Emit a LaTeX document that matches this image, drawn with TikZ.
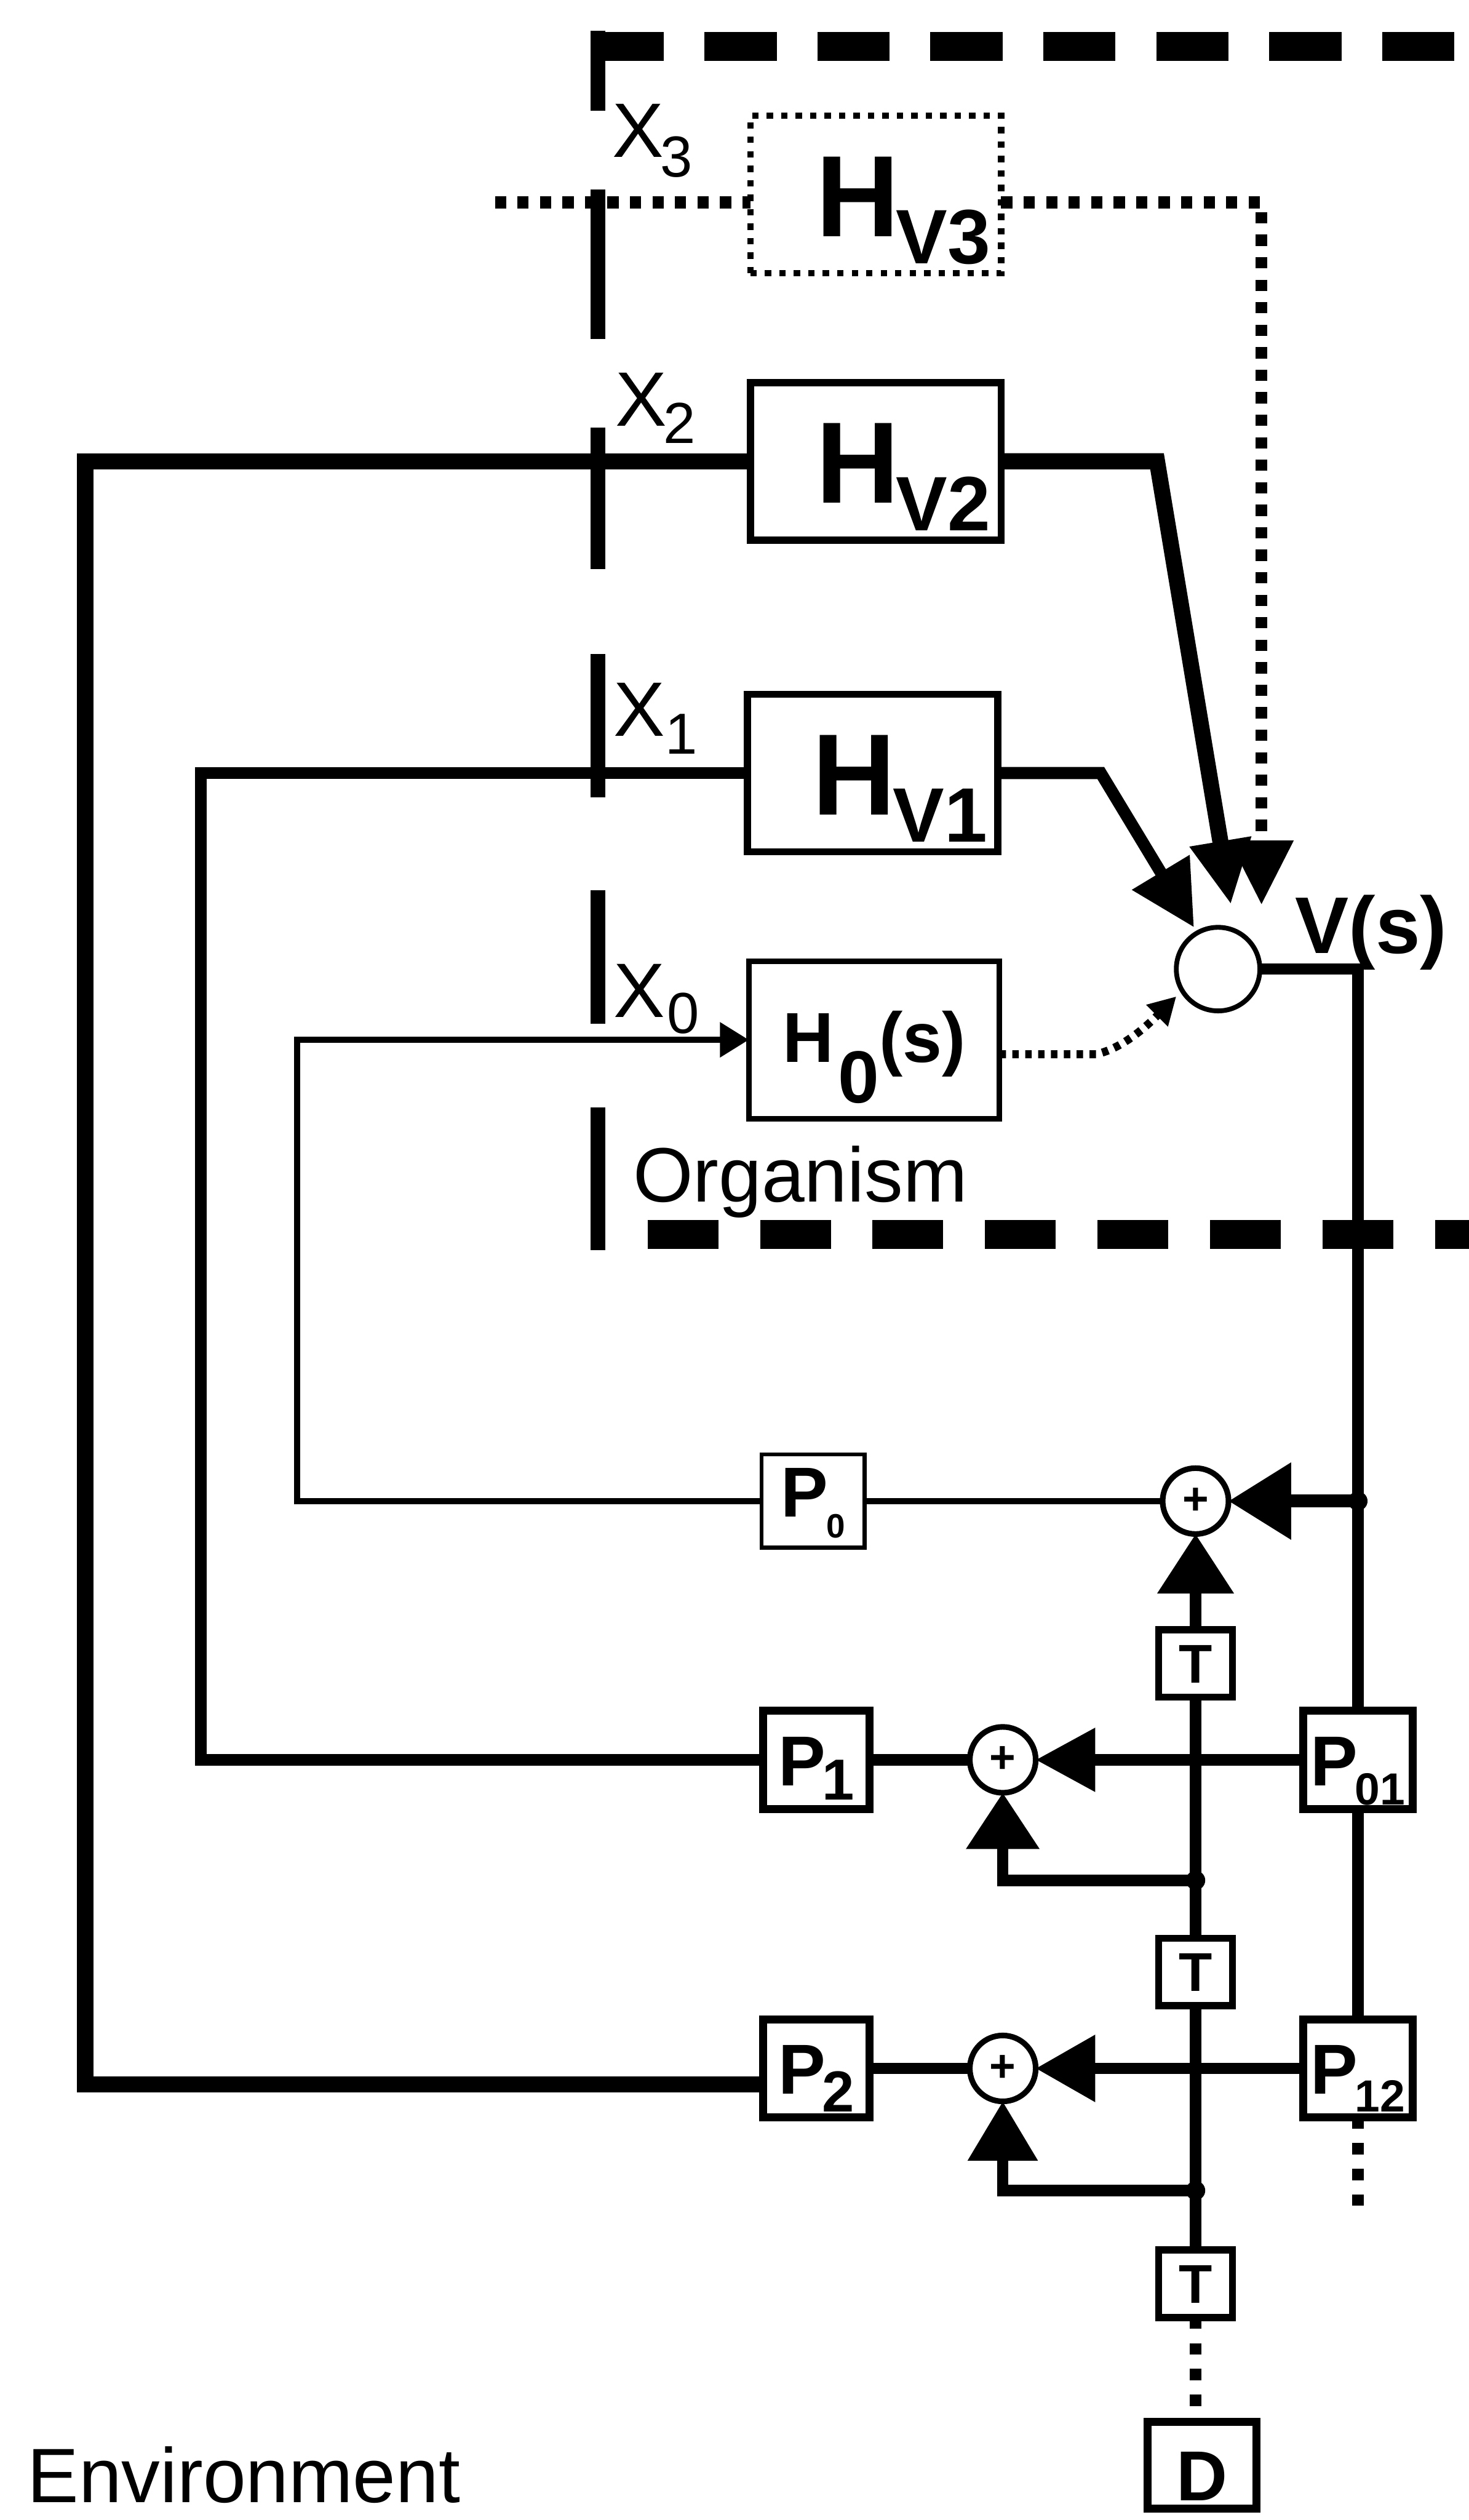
\documentclass[tikz,border=0pt]{standalone}
\usepackage{fontspec}
\setmainfont{Liberation Sans}
\usepackage{xcolor}
\usepackage{tikz}
\usetikzlibrary{arrows.meta}
\newcommand{\fsz}[1]{\fontsize{#1}{#1}\selectfont}

\begin{document}
\begin{tikzpicture}[
    x=1pt, y=-1pt, % one unit = one point, y grows downwards
    every node/.style={inner sep=0pt, outer sep=0pt},
    hblock/.style={rectangle, draw, line width=4.5pt, minimum width=156pt, minimum height=98pt,
                   font=\fsz{72}\bfseries, text height=52pt, text depth=0pt},
    pbox/.style={rectangle, draw, line width=5pt, minimum width=66pt, minimum height=61pt,
                 font=\fsz{44}\bfseries, text height=32pt, text depth=0pt},
    tbox/.style={rectangle, draw, line width=4.5pt, minimum width=46pt, minimum height=42pt,
                 font=\fsz{34}\bfseries, text height=24pt, text depth=0pt},
    sumnode/.style={circle, draw, line width=3.5pt, minimum size=41pt, font=\fsz{28}\bfseries},
    xlab/.style={anchor=base west, font=\fsz{48}},
    wall/.style={line width=9pt},
    fence/.style={line width=18pt, dash pattern=on 45pt off 25.3pt},
    heavy/.style={line width=10pt},
    medium/.style={line width=7.5pt},
    thin/.style={line width=4pt},
    sig/.style={line width=7pt},
    dotpath/.style={line width=7.5pt, dash pattern=on 7pt off 7pt},
    finedots/.style={line width=5pt, dash pattern=on 4pt off 4pt}
]
\useasboundingbox (0,0) rectangle (914,1568);

% Organism boundary
\draw[wall] (372,19) -- (372,69);
\draw[wall] (372,118) -- (372,211);
\draw[wall] (372,266) -- (372,354);
\draw[wall] (372,407) -- (372,496);
\draw[wall] (372,554) -- (372,637);
\draw[wall] (372,689) -- (372,778);
\draw[fence] (368,29) -- (914,29);
\draw[fence, dash pattern=on 44pt off 26pt] (403,768) -- (914,768);

% Organism blocks
\node[hblock, line width=4pt, dash pattern=on 4pt off 5pt] (hv3) at (545,121)
     {\hspace*{34pt}H\kern-2pt\raisebox{-17pt}{\fsz{48}V3}};
\node[hblock] (hv2) at (545,287) {\hspace*{34pt}H\kern-2pt\raisebox{-17pt}{\fsz{48}V2}};
\node[hblock] (hv1) at (543,481) {\hspace*{34pt}H\kern-2pt\raisebox{-17pt}{\fsz{48}V1}};
\node[hblock, line width=3.5pt, font=\fsz{44}\bfseries, text height=32pt, text depth=4pt] (h0) at (544,647)
     {H\kern3pt\raisebox{-25pt}{\fsz{46}0}(s)};
\node[circle, draw, line width=3pt, minimum size=52pt] (sumv) at (758,603) {};

% Labels
\node[xlab] (x3) at (381,98) {X\kern-2pt\raisebox{-12pt}{\fsz{36}3}};
\node[xlab] (x2) at (383,265) {X\kern-2pt\raisebox{-11pt}{\fsz{36}2}};
\node[xlab] (x1) at (382,458) {X\kern0pt\raisebox{-11pt}{\fsz{36}1}};
\node[xlab] (x0) at (382,633) {X\kern1pt\raisebox{-10pt}{\fsz{36}0}};
\node[anchor=base west, font=\fsz{50}\bfseries] (vs) at (806,593) {V(s)};
\node[anchor=base west, font=\fsz{48}] (org) at (394,748) {Organism};
\node[anchor=base west, font=\fsz{48}] (env) at (17,1557) {Environment};

% Environment blocks
\node[sumnode] (sum0) at (744,934) {+};
\node[sumnode] (sum1) at (624,1095) {+};
\node[sumnode] (sum2) at (624,1287) {+};
\node[pbox, line width=2.5pt, minimum width=64pt, minimum height=58pt, text depth=12pt] (p0) at (506,934)
     {P\kern-1pt\raisebox{-13pt}{\fsz{21}0}};
\node[pbox] (p1) at (508,1095) {P\kern-2pt\raisebox{-9pt}{\fsz{36}1}};
\node[pbox] (p2) at (508,1287) {P\kern-2pt\raisebox{-11pt}{\fsz{36}2}};
\node[pbox, minimum width=68pt] (p01) at (845,1095) {P\kern-2pt\raisebox{-12pt}{\fsz{28}01}};
\node[pbox, minimum width=68pt] (p12) at (845,1287) {P\kern-2pt\raisebox{-11pt}{\fsz{28}12}};
\node[tbox] (t1) at (744,1035) {T};
\node[tbox] (t2) at (744,1227) {T};
\node[tbox] (t3) at (744,1421) {T};
\node[tbox, line width=5pt, minimum width=68pt, minimum height=54pt, font=\fsz{44}\bfseries,
      text height=32pt] (d) at (748,1534) {\raisebox{-6pt}{D}};

% Free ends and junctions
\coordinate (x3in) at (308,126);
\coordinate (v3tip) at (785,563);
\coordinate (v2tip) at (766,563);
\coordinate (v1tip) at (743,577);
\coordinate (v0tip) at (732,620);
\coordinate (p12end) at (845,1378);
\coordinate (j0) at (sum0 -| p01);
\coordinate (j1) at (744,1170);
\coordinate (j2) at (744,1363);

% Edges into the organism
\draw[dotpath] (x3in) -- (x3in -| hv3.west);
\draw[dotpath, -{Triangle[length=40pt,width=38pt]}] (x3in -| hv3.east) -| (v3tip);
\draw[heavy, -{Triangle[length=40pt,width=36pt]}] (hv2.east) -- (720,287) -- (v2tip);
\draw[medium, -{Triangle[length=40pt,width=40pt]}] (hv1.east) -- (685,481) -- (v1tip);
\draw[finedots, -{Triangle[length=17pt,width=18pt]}] ([yshift=-9pt]h0.east) -- (682,656)
     .. controls (700,652) and (716,636) .. (v0tip);

% Feedback loops
\draw[heavy] ([yshift=-10pt]p2.west) -| (53,287) -- (hv2.west);
\draw[medium] (p1.west) -| (125,481) -- (hv1.west);
\draw[thin, -{Triangle[length=18pt,width=21pt]}] (p0.west) -| (185,647) -- (h0.west);

% Environment network
\draw[sig] (sumv.east) -| (p01.north);
\draw[sig, line width=8pt, -{Triangle[length=39pt,width=46pt]}] (j0) -- (sum0.east);
\draw[thin] (sum0.west) -- (p0.east);
\draw[sig, -{Triangle[length=37pt,width=38pt]}] (p01.west) -- (sum1.east);
\draw[sig] (sum1.west) -- (p1.east);
\draw[sig, -{Triangle[length=37pt,width=40pt]}] (p12.west) -- (sum2.east);
\draw[sig] (sum2.west) -- (p2.east);
\draw[sig] (p01.south) -- (p12.north);
\draw[dotpath, line width=7pt, dash pattern=on 7pt off 9pt] (p12.south) -- (p12end);
\draw[sig, -{Triangle[length=37pt,width=46pt]}] (t1.north) -- (sum0.south);
\draw[sig] (t2.north) -- (t1.south);
\draw[sig] (t3.north) -- (t2.south);
\draw[dotpath, line width=7pt, dash pattern=on 7pt off 9pt] (t3.south) -- (t3.south |- d.north);
\draw[sig, -{Triangle[length=35pt,width=44pt]}] (j1) -| (sum1.south);
\draw[sig, -{Triangle[length=37pt,width=42pt]}] (j2) -| (sum2.south);
\fill (j0) circle (6pt);
\fill (j1) circle (6pt);
\fill (j2) circle (6pt);

\end{tikzpicture}
\end{document}
